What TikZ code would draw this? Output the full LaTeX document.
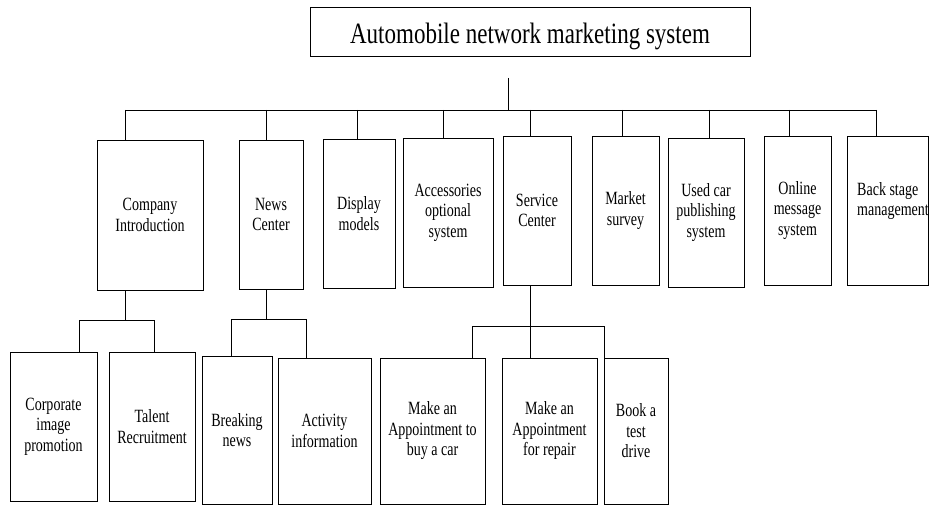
\documentclass[tikz,border=0pt]{standalone}
\usepackage{fontspec}
\setmainfont{Liberation Serif}[FakeStretch=0.75]
\newfontfamily\titlefont{Liberation Serif}[FakeStretch=0.78]
\usetikzlibrary{positioning}

\begin{document}
\begin{tikzpicture}
		[x=1pt, y=-1pt,
		item/.style={draw=black, line width=0.9pt, align=center, inner sep=0pt, font=\fontsize{18.7}{20.5}\selectfont},
		link/.style={draw=black, line width=0.8pt}]
		\useasboundingbox (0,0) rectangle (930,505);
		\node[item, minimum width=440, minimum height=49, text height=27pt, text depth=2pt, font=\titlefont\fontsize{29.5}{31}\selectfont] (title) at (530,31.5) {Automobile network marketing system};

		% first level
		\node[item, minimum width=106, minimum height=150] (company) at (150,215) {Company\\Introduction};
		\node[item, minimum width=64, minimum height=149] (news) at (271,214.5) {News\\Center};
		\node[item, minimum width=72, minimum height=149] (display) at (359,213.5) {Display\\models};
		\node[item, minimum width=90, minimum height=149] (accessories) at (448,212.5) {Accessories\\optional\\system};
		\node[item, minimum width=68, minimum height=149] (service) at (537,210.5) {Service\\Center};
		\node[item, minimum width=67, minimum height=149] (market) at (625.5,210.5) {Market\\survey};
		\node[item, minimum width=76, minimum height=149] (usedcar) at (706,212.5) {Used car\\publishing\\system};
		\node[item, minimum width=67, minimum height=149] (online) at (797.5,210.5) {Online\\message\\system};
		\node[item, minimum width=81, minimum height=149] (backstage) at (887.5,210.5) {};
		\node[anchor=west, align=left, inner sep=0pt, font=\fontsize{18.7}{20.5}\selectfont] (backstagetext) at (857,201) {Back stage\\management};

		% second level
		\node[item, minimum width=87, minimum height=149] (corporate) at (53.5,426.5) {Corporate\\image\\promotion};
		\node[item, minimum width=86, minimum height=149] (talent) at (152,426.5) {Talent\\Recruitment};
		\node[item, minimum width=70, minimum height=148] (breaking) at (237,430) {Breaking\\news};
		\node[item, minimum width=93, minimum height=146] (activity) at (324.5,431) {Activity\\information};
		\node[item, minimum width=105, minimum height=146] (buycar) at (432.5,431) {Make an\\Appointment to\\buy a car};
		\node[item, minimum width=95, minimum height=146] (repair) at (549.5,431) {Make an\\Appointment\\for repair};
		\node[item, minimum width=64, minimum height=146] (testdrive) at (636,431) {Book a\\test\\drive};

		% main bus
		\coordinate (root) at (508,78);
		\coordinate (busL) at (125,110);
		\coordinate (busR) at (877,110);
		\draw[link] (root) -- (root |- busL);
		\draw[link] (busL) -- (busR);
		\foreach \n/\x in {company/125, news/266, display/357, accessories/443, service/530, market/622, usedcar/709, online/789, backstage/876}
		{
			\coordinate (top\n) at (\x,110);
			\draw[link] (top\n) -- (top\n |- \n.north);
		}

		% company branch
		\coordinate (companyfork) at (125,320);
		\coordinate (subcorporate) at (79,320);
		\coordinate (subtalent) at (154,320);
		\draw[link] (companyfork |- company.south) -- (companyfork);
		\draw[link] (subcorporate |- corporate.north) -- (subcorporate) -- (subtalent) -- (subtalent |- talent.north);

		% news branch
		\coordinate (newsfork) at (266,319);
		\coordinate (subbreaking) at (231,319);
		\coordinate (subactivity) at (306,319);
		\draw[link] (newsfork |- news.south) -- (newsfork);
		\draw[link] (subbreaking |- breaking.north) -- (subbreaking) -- (subactivity) -- (subactivity |- activity.north);

		% service branch
		\coordinate (servicefork) at (530,326);
		\coordinate (subbuycar) at (472,326);
		\coordinate (subtestdrive) at (604,326);
		\draw[link] (servicefork |- service.south) -- (servicefork |- repair.north);
		\draw[link] (subbuycar |- buycar.north) -- (subbuycar) -- (subtestdrive) -- (subtestdrive |- testdrive.north);
	\end{tikzpicture}
\end{document}
